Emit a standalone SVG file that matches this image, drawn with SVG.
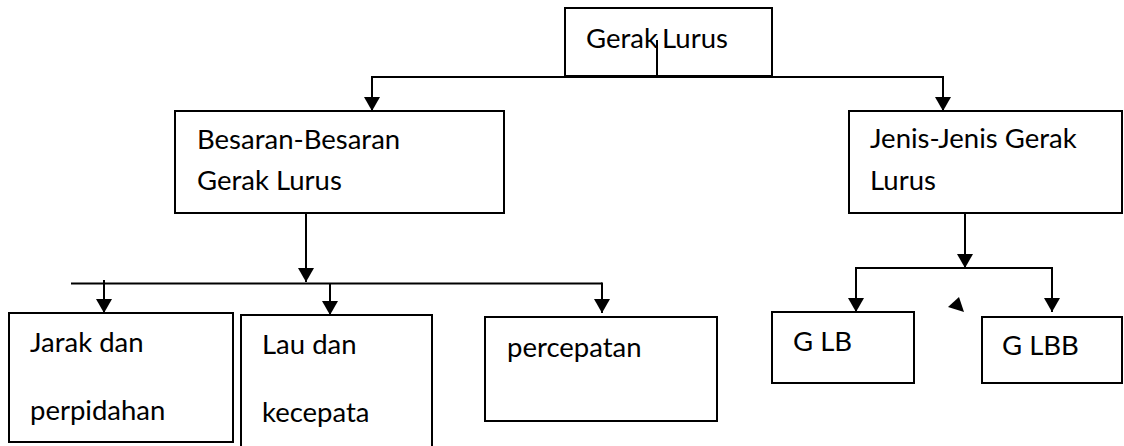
<svg xmlns="http://www.w3.org/2000/svg" width="1124" height="446" viewBox="0 0 1124 446">
<defs>
<style>
.box{fill:#fff;stroke:#000;stroke-width:2}
.ln{fill:none;stroke:#000;stroke-width:2}
.t{font-family:Lato,"Open Sans","Liberation Sans",sans-serif;font-size:27.5px;fill:#000}
</style>
<marker id="ah" markerUnits="userSpaceOnUse" markerWidth="16" markerHeight="16" viewBox="0 0 14 16" refX="14" refY="8" orient="auto">
<path d="M0,0 L14,8 L0,16 Z" fill="#000"/>
</marker>
</defs>
<rect width="1124" height="446" fill="#fff"/>
<g id="n-gerak-lurus"><rect class="box" x="565" y="8" width="207" height="68"/><text class="t" x="586" y="48">Gerak <tspan x="662">Lurus</tspan></text></g>
<g id="n-besaran"><rect class="box" x="175" y="111" width="329" height="102"/><text class="t" x="197" y="149">Besaran-Besaran</text><text class="t" x="197" y="190">Gerak Lurus</text></g>
<g id="n-jenis"><rect class="box" x="849" y="111" width="273" height="102"/><text class="t" x="870" y="148">Jenis-Jenis Gerak</text><text class="t" x="870" y="190">Lurus</text></g>
<g id="n-jarak"><rect class="box" x="9" y="313" width="224" height="129"/><text class="t" x="30" y="352">Jarak dan</text><text class="t" x="30" y="420">perpidahan</text></g>
<g id="n-lau"><rect class="box" x="241" y="315" width="191" height="140"/><text class="t" x="262" y="354">Lau dan</text><text class="t" x="262" y="422">kecepata</text></g>
<g id="n-percepatan"><rect class="box" x="485" y="317" width="232" height="104"/><text class="t" x="507" y="357">percepatan</text></g>
<g id="n-glb"><rect class="box" x="772" y="312" width="142" height="71"/><text class="t" x="793" y="351">G LB</text></g>
<g id="n-glbb"><rect class="box" x="982" y="317" width="140" height="66"/><text class="t" x="1002" y="355">G LBB</text></g>
<g id="connectors">
<line class="ln" x1="657" y1="40" x2="657" y2="77"/>
<line class="ln" x1="371" y1="77" x2="944" y2="77"/>
<line class="ln" x1="372" y1="77" x2="372" y2="111" marker-end="url(#ah)"/>
<line class="ln" x1="943" y1="77" x2="943" y2="111" marker-end="url(#ah)"/>
<line class="ln" x1="306" y1="213" x2="306" y2="282" marker-end="url(#ah)"/>
<line class="ln" x1="71" y1="283.5" x2="602" y2="283.5"/>
<line class="ln" x1="104" y1="280" x2="104" y2="313" marker-end="url(#ah)"/>
<line class="ln" x1="330" y1="283" x2="330" y2="315" marker-end="url(#ah)"/>
<line class="ln" x1="602" y1="282.5" x2="602" y2="313" marker-end="url(#ah)"/>
<line class="ln" x1="965" y1="213" x2="965" y2="268" marker-end="url(#ah)"/>
<polyline class="ln" points="856,312 856,268 1052,268 1052,312"/>
<line class="ln" x1="856" y1="268" x2="856" y2="312" marker-end="url(#ah)"/>
<line class="ln" x1="1052" y1="268" x2="1052" y2="312" marker-end="url(#ah)"/>
<polygon points="959,297 948,307 964,312" fill="#000"/>
</g>
</svg>
